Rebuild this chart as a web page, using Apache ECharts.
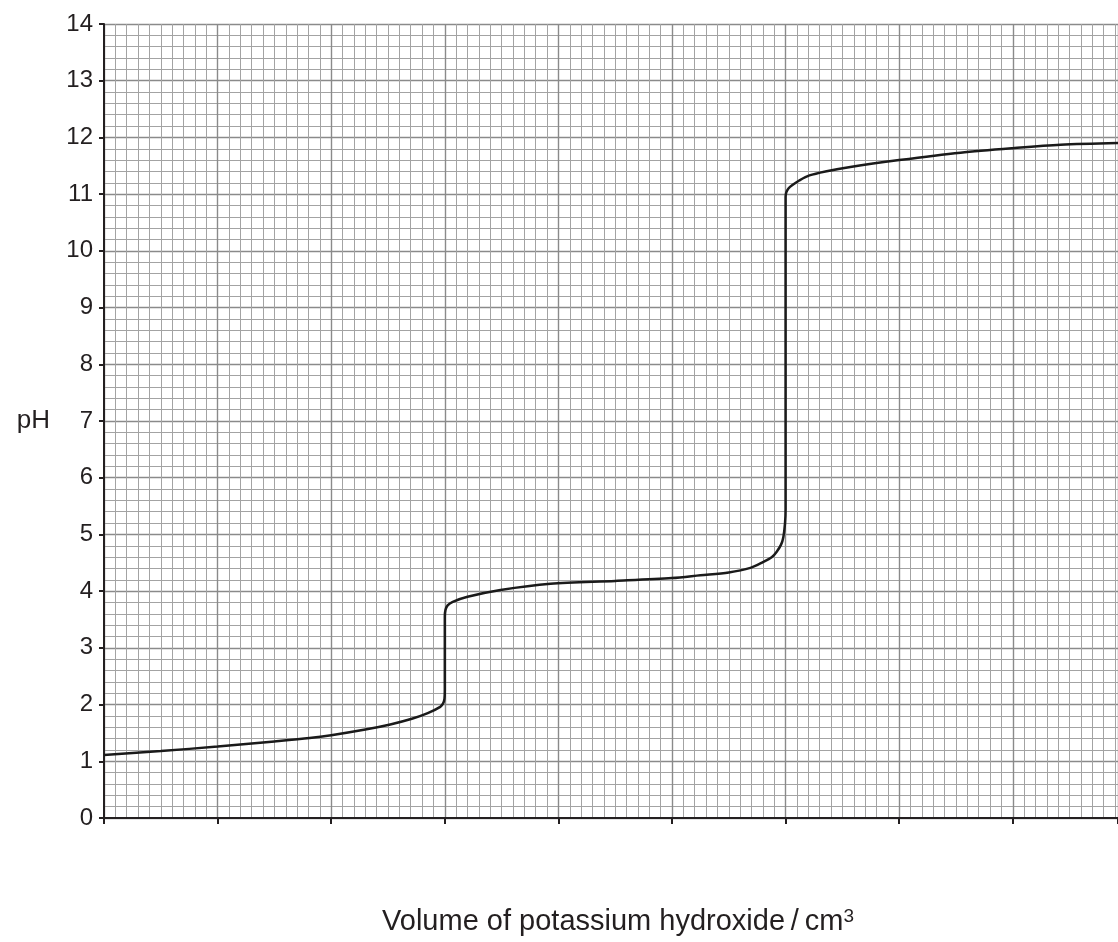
<!DOCTYPE html>
<html>
<head>
<meta charset="utf-8">
<script src="https://cdn.jsdelivr.net/npm/echarts@6/dist/echarts.min.js"></script>
<style>
html,body{margin:0;padding:0;background:#fff;}
#chart{width:1118px;height:942px;}
</style>
</head>
<body>
<div id="chart"></div>
<script>
// x in major grid divisions (10 small squares each), y = pH
const volume = [0, 0.5, 1.0, 1.5, 1.81, 2.0, 2.3, 2.52, 2.71, 2.85, 2.96, 2.985, 2.997, 3.0,
  3.0, 3.006, 3.025, 3.07, 3.2, 3.49, 3.93, 4.5, 5.0, 5.25, 5.5, 5.69, 5.8, 5.88, 5.92, 5.96, 5.98, 5.995, 6.0,
  6.0, 6.006, 6.025, 6.06, 6.12, 6.21, 6.35, 6.57, 7.0, 7.54, 8.0, 8.42, 8.926];
const pHValues = [1.11, 1.18, 1.26, 1.35, 1.41, 1.46, 1.56, 1.65, 1.75, 1.85, 1.96, 2.02, 2.1, 2.25,
  3.55, 3.67, 3.75, 3.81, 3.90, 4.02, 4.13, 4.18, 4.23, 4.28, 4.33, 4.41, 4.51, 4.6, 4.69, 4.82, 4.95, 5.2, 5.45,
  10.95, 11.03, 11.1, 11.16, 11.24, 11.33, 11.4, 11.48, 11.6, 11.73, 11.81, 11.87, 11.9];
const yTicks = [0,1,2,3,4,5,6,7,8,9,10,11,12,13,14];
const xMax = 8.926;

const chart = echarts.init(document.getElementById('chart'), null, {renderer: 'canvas'});
const font = 'Liberation Sans, Arial, sans-serif';
const ink = '#231f20';
const gridMinor = {show: true, lineStyle: {color: '#a3a3a3', width: 1}};
const gridMajor = {show: true, lineStyle: {color: '#8a8a8a', width: 1.4}};
chart.setOption({
  animation: false,
  backgroundColor: '#fff',
  grid: {left: 104, right: 0, top: 24, bottom: 124, containLabel: false},
  xAxis: {
    type: 'value', min: 0, max: xMax, interval: 1,
    name: '{t|Volume of potassium hydroxide\u2009/\u2009cm}{s|3}',
    nameLocation: 'middle', nameGap: 89,
    nameTextStyle: {
      fontFamily: font, fontSize: 29, color: ink, padding: [0, 0, 0, 14],
      rich: {
        t: {fontFamily: font, fontSize: 29, color: ink, lineHeight: 30},
        s: {fontFamily: font, fontSize: 19, color: ink, lineHeight: 30, verticalAlign: 'top'}
      }
    },
    axisLine: {show: true, onZero: false, lineStyle: {color: ink, width: 2}},
    axisTick: {show: true, length: 6, lineStyle: {color: ink, width: 2}},
    axisLabel: {show: false},
    splitLine: gridMajor,
    minorTick: {show: false, splitNumber: 10},
    minorSplitLine: gridMinor
  },
  yAxis: {
    type: 'value', min: yTicks[0], max: yTicks[yTicks.length - 1], interval: 1,
    name: 'pH', nameLocation: 'middle', nameRotate: 0, nameGap: 54,
    nameTextStyle: {fontFamily: font, fontSize: 26, color: ink},
    axisLine: {show: true, lineStyle: {color: ink, width: 2}},
    axisTick: {show: true, length: 5, lineStyle: {color: ink, width: 2}},
    axisLabel: {fontFamily: font, fontSize: 24, color: ink, margin: 11},
    splitLine: gridMajor,
    minorTick: {show: false, splitNumber: 5},
    minorSplitLine: gridMinor
  },
  series: [{
    type: 'line',
    data: volume.map((v, i) => [v, pHValues[i]]),
    showSymbol: false,
    smooth: 0.3,
    lineStyle: {color: '#1a1a1a', width: 2.5},
    z: 5
  }]
});
</script>
</body>
</html>
